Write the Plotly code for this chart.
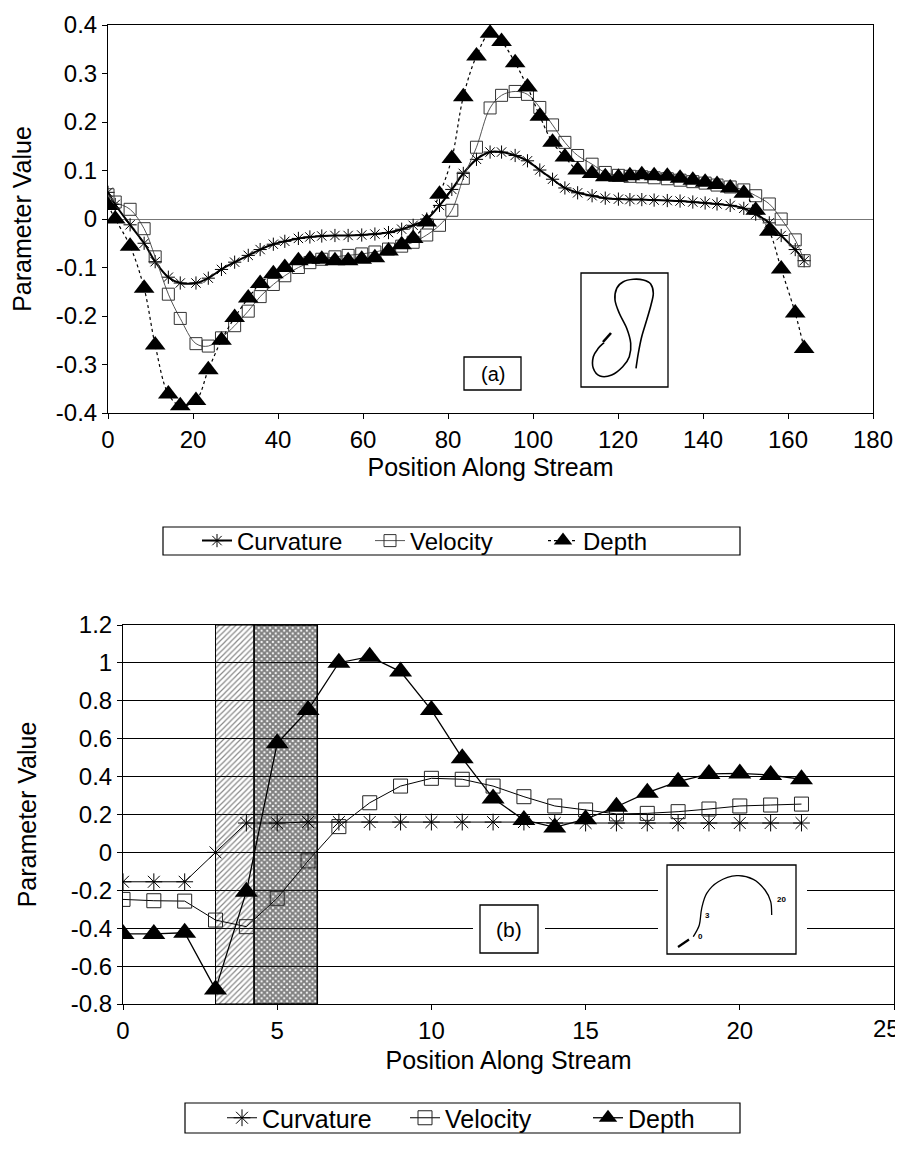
import plotly.graph_objects as go

W, H = 903, 1155
OFF = 8  # page body margin of the rendered html
FONT = "Liberation Sans, Arial, Helvetica, sans-serif"

# ---------------- data: (a) top chart ----------------
top_position = [0, 1.7, 5.2, 8.5, 11.1, 14.2, 17.0, 20.7, 23.6, 26.7, 29.8, 33.0, 35.8, 38.9,
                41.6, 44.8, 47.5, 50.3, 53.4, 56.5, 59.7, 62.8, 66.0, 69.1, 71.8, 75.0, 78.0,
                80.9, 83.6, 86.7, 89.9, 92.6, 95.8, 98.7, 101.6, 104.6, 107.5, 110.5, 113.9,
                117.0, 120.1, 122.8, 125.6, 128.5, 131.6, 134.6, 137.6, 140.5, 143.3, 146.4,
                149.6, 152.4, 155.6, 158.4, 161.7, 163.8]
top_curvature = [0.055, 0.03, -0.012, -0.05, -0.088, -0.12, -0.132, -0.132, -0.122, -0.104,
                 -0.089, -0.075, -0.063, -0.052, -0.046, -0.04, -0.037, -0.035, -0.034, -0.034,
                 -0.033, -0.031, -0.028, -0.021, -0.013, 0.0, 0.028, 0.061, 0.094, 0.123, 0.138,
                 0.138, 0.131, 0.12, 0.101, 0.082, 0.064, 0.054, 0.048, 0.043, 0.041, 0.04, 0.04,
                 0.039, 0.038, 0.037, 0.035, 0.033, 0.031, 0.028, 0.022, 0.01, -0.008, -0.034,
                 -0.063, -0.086]
top_velocity = [0.05, 0.035, 0.02, -0.02, -0.078, -0.155, -0.205, -0.257, -0.262, -0.245,
                -0.22, -0.19, -0.16, -0.135, -0.117, -0.1, -0.09, -0.083, -0.078, -0.075,
                -0.072, -0.068, -0.062, -0.056, -0.048, -0.033, -0.013, 0.018, 0.084, 0.148,
                0.229, 0.255, 0.263, 0.257, 0.23, 0.194, 0.158, 0.131, 0.113, 0.096, 0.09, 0.088,
                0.087, 0.085, 0.083, 0.08, 0.077, 0.074, 0.07, 0.066, 0.06, 0.048, 0.031, 0.0,
                -0.043, -0.086]
top_depth = [0.028, 0.0, -0.056, -0.143, -0.26, -0.361, -0.385, -0.374, -0.311, -0.25, -0.203,
             -0.163, -0.133, -0.113, -0.1, -0.086, -0.083, -0.083, -0.086, -0.086, -0.083, -0.08,
             -0.066, -0.053, -0.04, -0.006, 0.051, 0.125, 0.252, 0.336, 0.383, 0.366, 0.322,
             0.272, 0.212, 0.158, 0.128, 0.101, 0.094, 0.087, 0.086, 0.089, 0.091, 0.089, 0.088,
             0.084, 0.08, 0.076, 0.071, 0.064, 0.053, 0.018, -0.025, -0.103, -0.194, -0.267]

top_xticks = [0, 20, 40, 60, 80, 100, 120, 140, 160, 180]
top_yticks = [-0.4, -0.3, -0.2, -0.1, 0, 0.1, 0.2, 0.3, 0.4]
top_ytext = ["-0.4", "-0.3", "-0.2", "-0.1", "0", "0.1", "0.2", "0.3", "0.4"]

# ---------------- data: (b) bottom chart ----------------
bot_position = [0, 1, 2, 3, 4, 5, 6, 7, 8, 9, 10, 11, 12, 13, 14, 15, 16, 17, 18, 19, 20, 21, 22]
bot_curvature = [-0.155, -0.155, -0.155, 0.0, 0.155, 0.155, 0.16, 0.16, 0.16, 0.16, 0.16, 0.16,
                 0.16, 0.16, 0.155, 0.155, 0.155, 0.155, 0.155, 0.155, 0.155, 0.155, 0.155]
bot_velocity = [-0.248, -0.255, -0.257, -0.357, -0.392, -0.242, -0.045, 0.136, 0.262, 0.35,
                0.391, 0.386, 0.35, 0.294, 0.245, 0.224, 0.203, 0.206, 0.215, 0.229, 0.245,
                0.25, 0.255]
bot_depth = [-0.43, -0.43, -0.424, -0.723, -0.207, 0.576, 0.751, 1.001, 1.033, 0.954, 0.751,
             0.497, 0.285, 0.171, 0.132, 0.175, 0.241, 0.315, 0.373, 0.414, 0.417, 0.408, 0.386]
hatch_zone = [3, 4.25]        # diagonal hatch
crosshatch_zone = [4.25, 6.3]  # cross hatch

bot_xticks = [0, 5, 10, 15, 20, 25]
bot_xtext = ["0", "5", "10", "15", "20", "25"]
bot_yticks = [-0.8, -0.6, -0.4, -0.2, 0, 0.2, 0.4, 0.6, 0.8, 1, 1.2]
bot_ytext = ["-0.8", "-0.6", "-0.4", "-0.2", "0", "0.2", "0.4", "0.6", "0.8", "1", "1.2"]


def px(x, y):
    return (x - OFF) / W, 1 - (y - OFF) / H


def dom_x(a, b):
    return [(a - OFF) / W, (b - OFF) / W]


def dom_y(top, bottom):
    return [1 - (bottom - OFF) / H, 1 - (top - OFF) / H]


def cr_path(pts):
    P = [px(*p) for p in pts]
    d = f"M{P[0][0]:.5f},{P[0][1]:.5f}"
    for i in range(len(P) - 1):
        p0 = P[i - 1] if i > 0 else P[i]
        p1, p2 = P[i], P[i + 1]
        p3 = P[i + 2] if i + 2 < len(P) else P[i + 1]
        c1 = (p1[0] + (p2[0] - p0[0]) / 6, p1[1] + (p2[1] - p0[1]) / 6)
        c2 = (p2[0] - (p3[0] - p1[0]) / 6, p2[1] - (p3[1] - p1[1]) / 6)
        d += f" C{c1[0]:.5f},{c1[1]:.5f} {c2[0]:.5f},{c2[1]:.5f} {p2[0]:.5f},{p2[1]:.5f}"
    return d


def rect(x0, y0, x1, y1, line=True, fill="white", lw=1.3):
    a, b = px(x0, y1)
    c, d = px(x1, y0)
    return dict(type="rect", xref="paper", yref="paper", x0=a, y0=b, x1=c, y1=d,
                fillcolor=fill, layer="above",
                line=dict(color="black" if line else "rgba(0,0,0,0)", width=lw if line else 0))


fig = go.Figure()

# ---- top chart traces ----
fig.add_trace(go.Scatter(
    x=top_position, y=top_curvature, name="Curvature", mode="lines+markers",
    line=dict(color="black", width=2, shape="spline"),
    marker=dict(symbol="asterisk-open", size=11, color="black", line=dict(width=1, color="#222")),
    xaxis="x", yaxis="y", legend="legend"))
fig.add_trace(go.Scatter(
    x=top_position, y=top_velocity, name="Velocity", mode="lines+markers",
    line=dict(color="#555", width=1, shape="spline"),
    marker=dict(symbol="square-open", size=12, color="#333", line=dict(width=1)),
    xaxis="x", yaxis="y", legend="legend"))
fig.add_trace(go.Scatter(
    x=top_position, y=top_depth, name="Depth", mode="lines+markers",
    line=dict(color="black", width=1.2, dash="dot", shape="spline"),
    marker=dict(symbol="triangle-up", size=18, color="black"),
    xaxis="x", yaxis="y", legend="legend"))

# ---- bottom chart shading ----
fig.add_trace(go.Scatter(
    x=[hatch_zone[0], hatch_zone[0], hatch_zone[1], hatch_zone[1], hatch_zone[0]],
    y=[-0.8, 1.2, 1.2, -0.8, -0.8], mode="lines", fill="toself",
    fillcolor="rgba(0,0,0,0)",
    fillpattern=dict(shape="/", fgcolor="#111", bgcolor="rgba(0,0,0,0)", size=4, solidity=0.3),
    line=dict(color="black", width=1), showlegend=False, hoverinfo="skip",
    xaxis="x2", yaxis="y2"))
fig.add_trace(go.Scatter(
    x=[crosshatch_zone[0], crosshatch_zone[0], crosshatch_zone[1], crosshatch_zone[1], crosshatch_zone[0]],
    y=[-0.8, 1.2, 1.2, -0.8, -0.8], mode="lines", fill="toself",
    fillcolor="rgba(0,0,0,0)",
    fillpattern=dict(shape="x", fgcolor="#000", bgcolor="rgba(255,255,255,0.1)", size=4, solidity=0.75),
    line=dict(color="black", width=1.5), showlegend=False, hoverinfo="skip",
    xaxis="x2", yaxis="y2"))

# ---- bottom chart traces ----
fig.add_trace(go.Scatter(
    x=bot_position, y=bot_curvature, name="Curvature", mode="lines+markers",
    line=dict(color="black", width=1),
    marker=dict(symbol="asterisk-open", size=14, color="black", line=dict(width=1, color="#222")),
    xaxis="x2", yaxis="y2", legend="legend2"))
fig.add_trace(go.Scatter(
    x=bot_position, y=bot_velocity, name="Velocity", mode="lines+markers",
    line=dict(color="black", width=1),
    marker=dict(symbol="square-open", size=14, color="#222", line=dict(width=1)),
    xaxis="x2", yaxis="y2", legend="legend2"))
fig.add_trace(go.Scatter(
    x=bot_position, y=bot_depth, name="Depth", mode="lines+markers",
    line=dict(color="black", width=1.3),
    marker=dict(symbol="triangle-up", size=20, color="black"),
    xaxis="x2", yaxis="y2", legend="legend2"))

axis_common = dict(showline=True, linecolor="black", linewidth=1, mirror=True,
                   ticks="outside", ticklen=5, tickcolor="black", automargin=False,
                   ticklabeloverflow="allow",
                   tickfont=dict(family=FONT, size=24, color="black"))

fig.update_layout(
    width=W, height=H, margin=dict(l=0, r=0, t=0, b=0, pad=0, autoexpand=False),
    paper_bgcolor="white", plot_bgcolor="white",
    font=dict(family=FONT, color="black"),
    xaxis=dict(domain=dom_x(108, 873), range=[0, 180], tickvals=top_xticks,
               showgrid=False, zeroline=False, anchor="y",
               title=dict(text="Position Along Stream", font=dict(size=25), standoff=4),
               **axis_common),
    yaxis=dict(domain=dom_y(25, 413), range=[-0.4, 0.4], tickvals=top_yticks,
               ticktext=top_ytext, showgrid=False, zeroline=True, zerolinecolor="#777",
               zerolinewidth=1, anchor="x",
               title=dict(text="Parameter Value", font=dict(size=25), standoff=20),
               **axis_common),
    xaxis2=dict(domain=dom_x(123, 894), range=[0, 25], tickvals=bot_xticks,
                ticktext=bot_xtext[:-1] + [""],
                showgrid=False, zeroline=False, anchor="y2",
                title=dict(text="Position Along Stream", font=dict(size=25), standoff=8),
                **axis_common),
    yaxis2=dict(domain=dom_y(625, 1004), range=[-0.8, 1.2], tickvals=bot_yticks,
                ticktext=bot_ytext, showgrid=True, gridcolor="black", gridwidth=1,
                zeroline=False, anchor="x2",
                title=dict(text="Parameter Value", font=dict(size=25), standoff=27),
                **axis_common),
    legend=dict(x=px(197, 0)[0], y=px(0, 541)[1], xanchor="left", yanchor="middle",
                orientation="h", borderwidth=0, bgcolor="rgba(0,0,0,0)",
                font=dict(family=FONT, size=24, color="black"),
                entrywidthmode="pixels", entrywidth=128),
    legend2=dict(x=px(222, 0)[0], y=px(0, 1118)[1], xanchor="left", yanchor="middle",
                 orientation="h", borderwidth=0, bgcolor="rgba(0,0,0,0)",
                 font=dict(family=FONT, size=25, color="black"),
                 entrywidthmode="pixels", entrywidth=138),
)

shapes = []
# legend frames
lg1 = rect(163, 527, 740, 555, lw=1.2)
lg1["layer"] = "below"
lg2 = rect(185, 1103, 740, 1133, lw=1.2)
lg2["layer"] = "below"
shapes += [lg1, lg2]
# top inset: label box and stream sketch
shapes.append(rect(464, 357, 521, 390))
shapes.append(rect(581, 273, 668, 387))
top_sketch = [(636, 368.3), (638.3, 353.3), (641.7, 336.7), (646.7, 320), (651, 305),
              (653.3, 293.3), (650.7, 284), (643.3, 280), (633.3, 279.3), (623.3, 281.7),
              (616.7, 288.3), (615, 300), (619.3, 313.3), (626.7, 328.3), (630.7, 343.3),
              (629.3, 356.7), (622.7, 366.7), (611.7, 375), (600, 376), (593.3, 368.3),
              (593.3, 356.7), (598.3, 348.3), (604, 342.7)]
shapes.append(dict(type="path", xref="paper", yref="paper", path=cr_path(top_sketch),
                   line=dict(color="black", width=1.6), layer="above"))
a0, a1 = px(603, 342), px(611, 333)
shapes.append(dict(type="line", xref="paper", yref="paper", x0=a0[0], y0=a0[1], x1=a1[0], y1=a1[1],
                   line=dict(color="black", width=2.6), layer="above"))

# bottom inset: gaps in gridlines, label box and sketch
shapes.append(rect(473, 898, 545, 960, line=False))
shapes.append(rect(480, 905, 538, 953))
shapes.append(rect(658, 858, 807, 961, line=False))
shapes.append(rect(667, 865, 796, 954))
bot_sketch = [(693.3, 936.7), (699.3, 925), (701.7, 908.3), (706.7, 893.3), (718.3, 881.7),
              (736.7, 875.7), (753.3, 879.3), (765, 890), (770.7, 901.7), (771.7, 915)]
shapes.append(dict(type="path", xref="paper", yref="paper", path=cr_path(bot_sketch),
                   line=dict(color="black", width=1.3), layer="above"))
b0, b1 = px(678, 947), px(689, 939.5)
shapes.append(dict(type="line", xref="paper", yref="paper", x0=b0[0], y0=b0[1], x1=b1[0], y1=b1[1],
                   line=dict(color="black", width=2.2), layer="above"))
fig.update_layout(shapes=shapes)

ann = []
for text, (cx, cy), size in [("(a)", (492.5, 373.5), 20), ("(b)", (509, 929), 21)]:
    ax, ay = px(cx, cy)
    ann.append(dict(text=text, x=ax, y=ay, xref="paper", yref="paper", showarrow=False,
                    xanchor="center", yanchor="middle",
                    font=dict(family=FONT, size=size, color="black")))
for text, (cx, cy) in [("0", (700, 936)), ("3", (707, 915)), ("20", (781, 899))]:
    ax, ay = px(cx, cy)
    ann.append(dict(text=f"<b>{text}</b>", x=ax, y=ay, xref="paper", yref="paper",
                    showarrow=False, xanchor="center", yanchor="middle",
                    font=dict(family=FONT, size=8, color="black")))
# last bottom tick label, kept inside the visible page edge
lx, _ = px(902, 0)
ann.append(dict(text=bot_xtext[-1], x=lx, xref="paper", y=bot_yticks[0], yref="y2",
                xanchor="right", yanchor="top", yshift=-9, showarrow=False,
                font=dict(family=FONT, size=24, color="black")))
fig.update_layout(annotations=ann)

fig.write_html("out.html")
